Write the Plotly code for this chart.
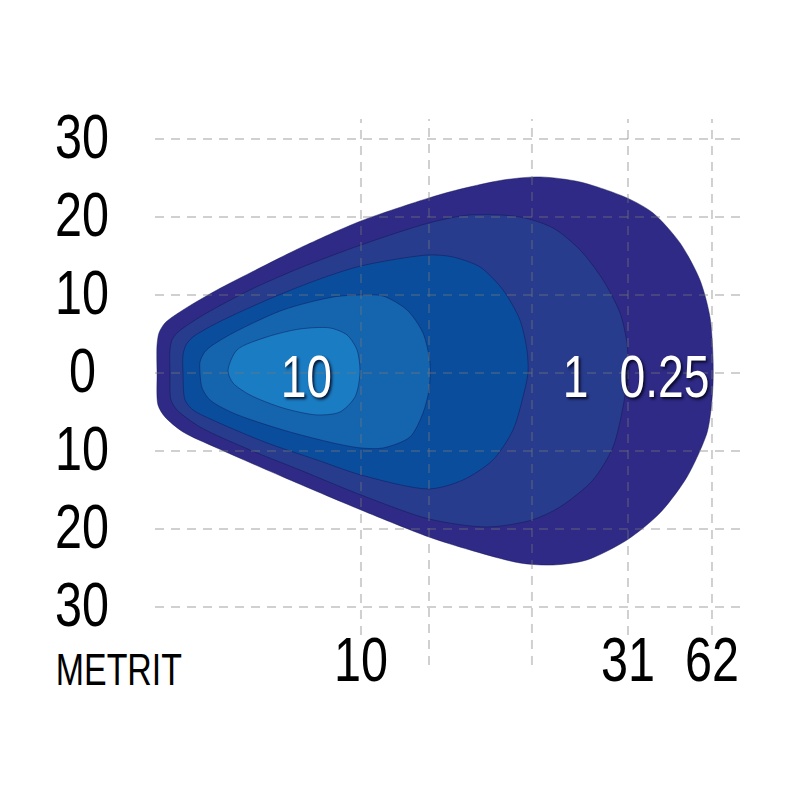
import plotly.graph_objects as go

# ---- data (axis units: y in metres left/right of the beam axis, x in chart units along the beam)
Y_TICKS = [30, 20, 10, 0, -10, -20, -30]
Y_TICK_TEXT = ["30", "20", "10", "0", "10", "20", "30"]
X_GRID = [26.41, 35.13, 48.33, 60.64, 71.41]
X_TICK_POS = [26.41, 60.64, 71.41]
X_TICK_TEXT = ["10", "31", "62"]
AXIS_TITLE = "METRIT"

LUX_LABELS = ["10", "1", "0.25"]
LUX_LABEL_X = [19.36, 53.85, 65.38]
LUX_LABEL_Y = [-0.5, -0.5, -0.5]

# isolux outlines (outermost first)
L1_X = [0.26, 0.26, 0.51, 1.28, 3.59, 7.95, 12.18, 18.59, 26.41, 35.13, 38.21, 44.62, 49.36, 54.49,
        60.51, 63.85, 67.31, 69.87, 71.15, 71.54, 71.54, 71.28, 70.77, 68.21, 64.74, 60.51, 55.38,
        51.03, 46.79, 40.38, 35.13, 26.41, 16.41, 7.95, 3.59, 1.28, 0.38]
L1_Y = [0.0, 3.59, 5.13, 6.41, 8.08, 10.64, 12.82, 16.03, 19.49, 22.44, 23.33, 24.74, 25.13, 24.49,
        22.44, 20.51, 16.67, 11.92, 7.18, 2.05, -1.54, -4.74, -7.69, -13.33, -17.95, -21.41, -23.97,
        -24.62, -24.36, -22.69, -21.03, -17.56, -13.33, -9.62, -7.56, -5.64, -4.10]

L2_X = [1.92, 1.92, 2.18, 2.82, 5.77, 12.18, 18.59, 26.41, 35.13, 40.38, 46.79, 51.03, 54.49, 57.44,
        59.62, 60.51, 60.64, 60.0, 58.72, 56.15, 51.92, 48.33, 42.56, 35.13, 26.41, 18.59, 12.18,
        5.77, 2.82, 2.05]
L2_Y = [0.0, 2.95, 4.23, 5.13, 7.18, 10.64, 13.46, 16.41, 19.23, 20.26, 20.0, 18.59, 15.77, 11.92,
        7.69, 3.85, 0.38, -4.36, -9.49, -13.72, -17.18, -18.85, -19.74, -18.72, -15.64, -12.44, -9.87,
        -6.92, -4.74, -3.46]

L3_X = [3.59, 3.59, 3.97, 4.87, 7.95, 14.36, 20.77, 26.41, 35.13, 38.21, 41.67, 44.62, 46.79, 47.69,
        47.82, 47.18, 45.9, 43.33, 39.49, 35.13, 26.41, 20.77, 14.36, 7.95, 4.87, 3.85]
L3_Y = [0.0, 2.31, 3.59, 4.62, 6.41, 9.36, 11.92, 13.72, 15.13, 14.87, 13.59, 10.64, 6.79, 2.95,
        0.0, -3.08, -7.31, -11.15, -13.72, -14.87, -13.08, -11.15, -8.97, -6.28, -4.74, -3.46]

L4_X = [5.77, 5.77, 6.28, 7.05, 10.0, 16.41, 22.82, 26.41, 29.23, 32.31, 34.36, 35.26, 35.13, 34.36,
        32.69, 29.23, 26.41, 22.82, 16.41, 10.0, 7.05, 6.03]
L4_Y = [0.0, 1.41, 2.56, 3.33, 5.13, 8.08, 9.74, 10.0, 9.87, 8.08, 5.13, 1.28, -2.18, -5.13,
        -8.21, -9.62, -9.62, -8.97, -7.31, -5.13, -3.46, -1.92]

L5_X = [9.36, 10.51, 14.36, 18.59, 22.44, 24.62, 25.9, 26.28, 25.64, 23.72, 20.77, 16.41, 12.18, 10.0]
L5_Y = [0.26, 2.95, 4.62, 5.64, 5.77, 4.87, 2.95, 0.0, -3.08, -5.0, -5.38, -4.49, -2.82, -1.28]

CONTOURS = [(L1_X, L1_Y), (L2_X, L2_Y), (L3_X, L3_Y), (L4_X, L4_Y), (L5_X, L5_Y)]
FILLS = ["#2e2a86", "#283c8e", "#0a4d9d", "#1464ae", "#1a7cc3"]

X_RANGE = [0, 75.9]
Y_RANGE = [-37.44, 32.56]

FONT = "Liberation Sans, Arial, Helvetica, sans-serif"

fig = go.Figure()
for (xs, ys), col in zip(CONTOURS, FILLS):
    fig.add_trace(go.Scatter(
        x=xs + [xs[0]], y=ys + [ys[0]], mode="lines", fill="toself", fillcolor=col,
        line=dict(color="rgba(15,20,80,0.45)", width=1, shape="spline", smoothing=0.8),
        hoverinfo="skip", showlegend=False))

grid_style = dict(color="rgba(120,120,120,0.35)", width=2, dash="9px,7px")
shapes = []
for yv in Y_TICKS:
    shapes.append(dict(type="line", xref="paper", yref="y", x0=0, x1=1, y0=yv, y1=yv,
                       line=grid_style, layer="above"))
for xv in X_GRID:
    # labelled gridlines stop just above their distance label
    bottom = 0.055 if xv in X_TICK_POS else 0
    shapes.append(dict(type="line", xref="x", yref="paper", x0=xv, x1=xv, y0=bottom, y1=1,
                       line=grid_style, layer="above"))

ann = []
for yv, t in zip(Y_TICKS, Y_TICK_TEXT):
    ann.append(dict(x=-0.1233, xref="paper", y=yv, yref="y", text=t, showarrow=False,
                    xanchor="center", yanchor="middle", yshift=3,
                    font=dict(family=FONT, size=63, color="#000000")))
for xv, t in zip(X_TICK_POS, X_TICK_TEXT):
    ann.append(dict(x=xv, xref="x", y=0, yref="paper", text=t, showarrow=False,
                    xanchor="center", yanchor="middle", yshift=6,
                    font=dict(family=FONT, size=63, color="#000000")))
ann.append(dict(x=-0.0608, xref="paper", y=0, yref="paper", text=AXIS_TITLE, showarrow=False,
                xanchor="center", yanchor="middle", yshift=-4,
                font=dict(family=FONT, size=44, color="#000000")))
for t, xv, yv in zip(LUX_LABELS, LUX_LABEL_X, LUX_LABEL_Y):
    ann.append(dict(x=xv, xref="x", y=yv, yref="y", text=t, showarrow=False,
                    xanchor="center", yanchor="middle",
                    font=dict(family=FONT, size=60, color="#ffffff",
                              shadow="2px 2px 3px rgba(0,0,20,0.85)")))

fig.update_layout(
    width=800, height=800,
    margin=dict(l=147, r=61, t=111, b=143),
    paper_bgcolor="#ffffff", plot_bgcolor="#ffffff",
    xaxis=dict(range=X_RANGE, visible=False, showgrid=False, zeroline=False, fixedrange=True),
    yaxis=dict(range=Y_RANGE, visible=False, showgrid=False, zeroline=False, fixedrange=True),
    shapes=shapes, annotations=ann, showlegend=False,
)

# narrow (condensed) lettering as in the original artwork
CONDENSE_CSS = (
    "var s=document.createElement('style');"
    "s.textContent='.annotation-text{transform-box:fill-box;transform-origin:center;transform:scaleX(0.77);}';"
    "document.head.appendChild(s);"
)

fig.write_html("out.html", post_script=CONDENSE_CSS)
